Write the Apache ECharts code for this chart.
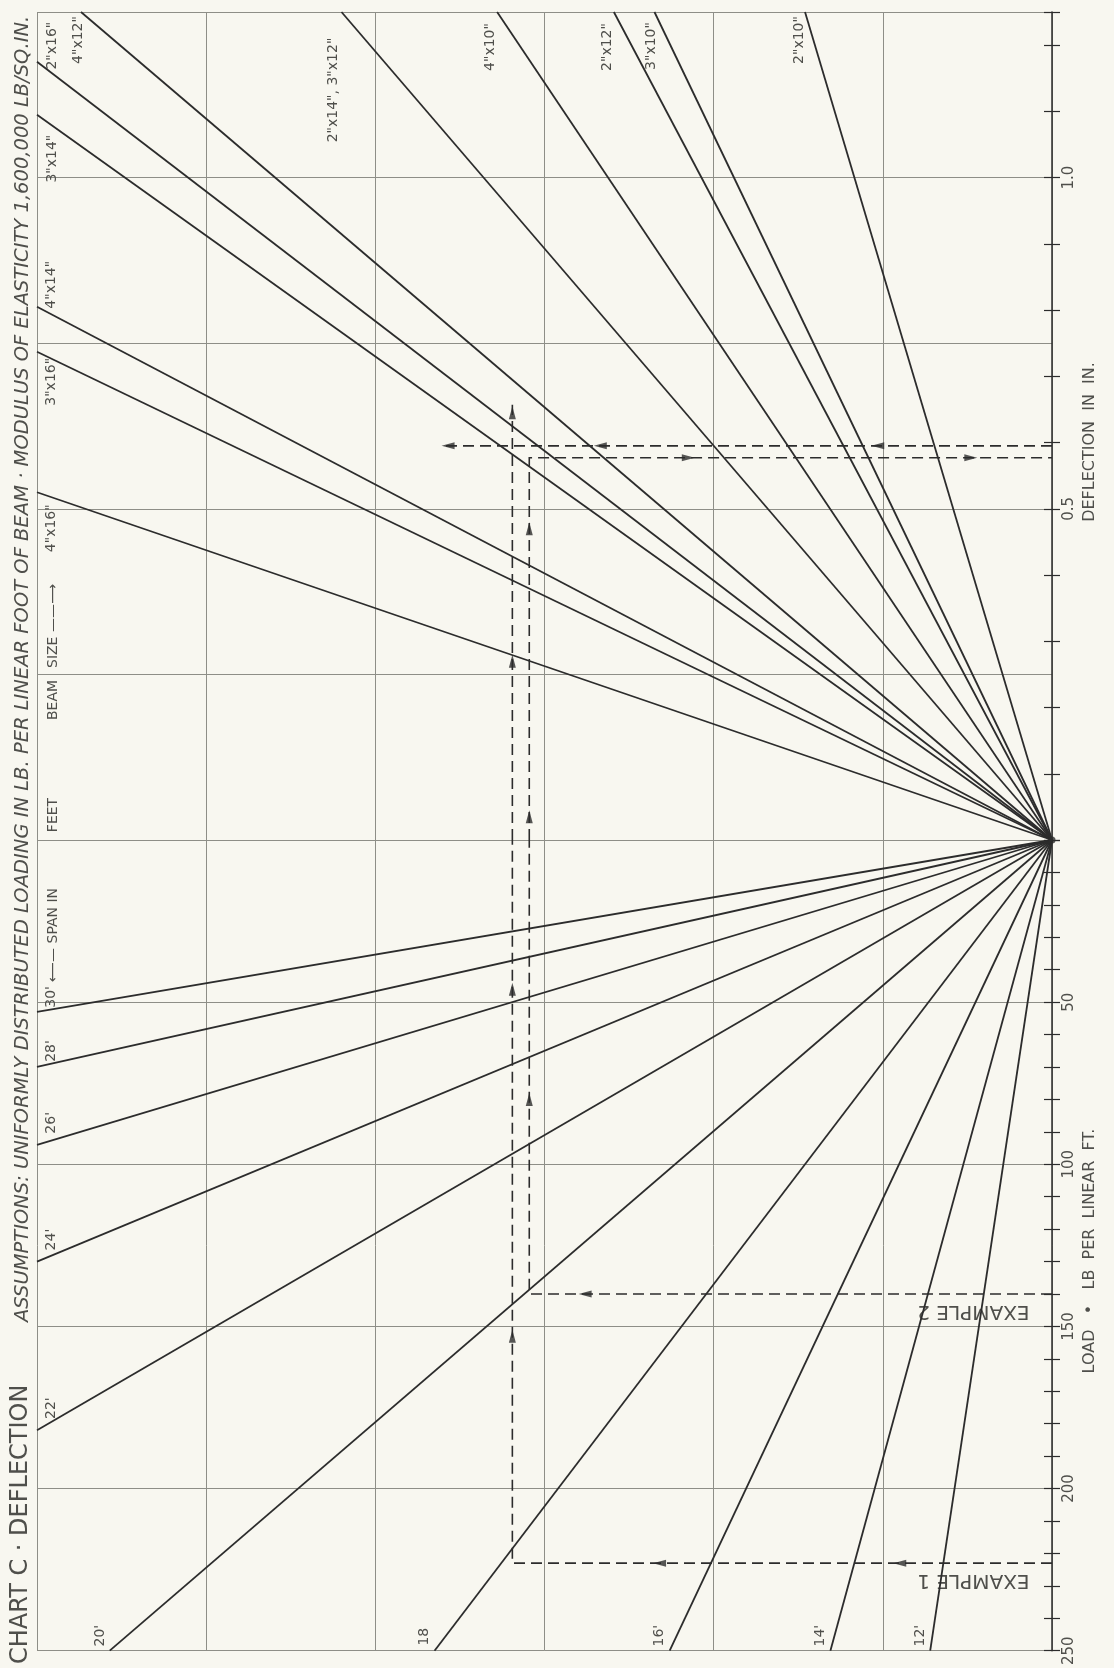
<!DOCTYPE html>
<html>
<head>
<meta charset="utf-8">
<title>Chart C - Deflection</title>
<script src="https://cdn.jsdelivr.net/npm/echarts@6/dist/echarts.min.js"></script>
<style>
  html, body { margin: 0; padding: 0; background: #f8f7f0; }
  #chart { width: 1114px; height: 1668px; }
</style>
</head>
<body>
<div id="chart"></div>
<script>
// x runs 0..6 across the sheet (one unit per grid column); the load / deflection scale sits at x = 6
var PIVOT_X = 6;

// beam size lines (upper half): point where each line leaves the frame, x and deflection in in.
var beamSizes = ['2"x16"', '3"x14"', '4"x12"', '2"x14", 3"x12"', '4"x10"', '2"x12"', '3"x10"', '2"x10"', '4"x14"', '3"x16"', '4"x16"'];
var beamX = [0, 0, 0.26, 1.80, 2.72, 3.41, 3.65, 4.54, 0, 0, 0];
var beamDefl = [1.175, 1.095, 1.25, 1.25, 1.25, 1.25, 1.25, 1.25, 0.805, 0.737, 0.525];

// span lines (lower half): point where each line leaves the frame, x and load in lb per linear ft.
var spans = ["30'", "28'", "26'", "24'", "22'", "20'", "18", "16'", "14'", "12'"];
var spanX = [0, 0, 0, 0, 0, 0.43, 2.35, 3.74, 4.69, 5.28];
var spanLoad = [53, 70, 94, 130, 182, 250, 250, 250, 250, 250];

// worked examples (dashed construction lines)
var example1Load = [[6, 223], [2.81, 223], [2.81, 0]];
var example1Defl = [[2.81, 0], [2.81, 0.657]];
var example1Across = [[6, 0.595], [2.40, 0.595]];
var example2Load = [[6, 140], [2.91, 140], [2.91, 0]];
var example2Defl = [[2.91, 0], [2.91, 0.577], [6, 0.577]];

// arrow heads on the example lines: x, value, direction
var arrowsDefl = [[2.81, 0.645, 'up'], [2.81, 0.27, 'up'], [2.91, 0.47, 'up'], [2.91, 0.035, 'up'],
                  [2.43, 0.595, 'left'], [3.33, 0.595, 'left'], [4.97, 0.595, 'left'],
                  [3.85, 0.577, 'right'], [5.52, 0.577, 'right']];
var arrowsLoad = [[2.81, 46, 'up'], [2.81, 153, 'up'], [2.91, 80, 'up'],
                  [3.68, 223, 'left'], [5.10, 223, 'left'], [3.24, 140, 'left']];

// scale labels
var deflTickLabels = ['0.5', '1.0'];
var loadTickLabels = ['50', '100', '150', '200', '250'];

var GRID = '#8e8e87';
var INK = '#2c2c2c';
var TEXT = '#4f4f4b';
var FONT = '"DejaVu Sans", sans-serif';

var chart = echarts.init(document.getElementById('chart'));

function plainAxis(extra) {
  var a = {
    type: 'value',
    axisLine: { show: false },
    axisTick: { show: false },
    axisLabel: { show: false },
    splitLine: { show: false }
  };
  return Object.assign(a, extra);
}

function tickLabel(list) {
  return function (v) {
    for (var i = 0; i < list.length; i++) {
      if (Math.abs(parseFloat(list[i]) - v) < 1e-6) return list[i];
    }
    return '';
  };
}

var rot = { up: 0, left: 90, right: -90 };

var option = {
  animation: false,
  backgroundColor: '#f8f7f0',
  grid: [
    { left: 37, right: 62, top: 12, height: 828 },
    { left: 37, right: 62, top: 840, height: 820 }
  ],
  xAxis: [0, 1].map(function (g) {
    return plainAxis({
      gridIndex: g, min: 0, max: 6, interval: 1,
      splitLine: { show: true, lineStyle: { color: GRID, width: 1 } }
    });
  }),
  yAxis: [
    // deflection half: grid lines, outer ticks + labels, inner ticks
    plainAxis({ gridIndex: 0, position: 'right', min: 0, max: 1.25, interval: 0.25,
      splitLine: { show: true, lineStyle: { color: GRID, width: 1 } } }),
    plainAxis({ gridIndex: 0, position: 'right', min: 0, max: 1.25, interval: 0.1,
      axisLine: { show: true, onZero: false, lineStyle: { color: INK, width: 1.5 } },
      axisTick: { show: true, length: 8, lineStyle: { color: INK, width: 1.2 } },
      axisLabel: { show: true, rotate: 90, margin: 10, fontSize: 15, color: TEXT,
        fontFamily: FONT, formatter: tickLabel(deflTickLabels) } }),
    plainAxis({ gridIndex: 0, position: 'right', min: 0, max: 1.25, interval: 0.1,
      axisTick: { show: true, inside: true, length: 8, lineStyle: { color: INK, width: 1.2 } } }),
    // load half (downward)
    plainAxis({ gridIndex: 1, position: 'right', inverse: true, min: 0, max: 250, interval: 50,
      splitLine: { show: true, lineStyle: { color: GRID, width: 1 } } }),
    plainAxis({ gridIndex: 1, position: 'right', inverse: true, min: 0, max: 250, interval: 10,
      axisLine: { show: true, onZero: false, lineStyle: { color: INK, width: 1.5 } },
      axisTick: { show: true, length: 8, lineStyle: { color: INK, width: 1.2 } },
      axisLabel: { show: true, rotate: 90, margin: 10, fontSize: 15, color: TEXT,
        fontFamily: FONT, formatter: tickLabel(loadTickLabels) } }),
    plainAxis({ gridIndex: 1, position: 'right', inverse: true, min: 0, max: 250, interval: 10,
      axisTick: { show: true, inside: true, length: 8, lineStyle: { color: INK, width: 1.2 } } })
  ],
  series: [
    {
      name: 'beam size', type: 'lines', coordinateSystem: 'cartesian2d',
      xAxisIndex: 0, yAxisIndex: 0, silent: true,
      lineStyle: { color: INK, width: 1.8, opacity: 1 },
      data: beamSizes.map(function (n, i) {
        return { name: n, coords: [[beamX[i], beamDefl[i]], [PIVOT_X, 0]] };
      })
    },
    {
      name: 'span', type: 'lines', coordinateSystem: 'cartesian2d',
      xAxisIndex: 1, yAxisIndex: 3, silent: true,
      lineStyle: { color: INK, width: 1.8, opacity: 1 },
      data: spans.map(function (n, i) {
        return { name: n, coords: [[spanX[i], spanLoad[i]], [PIVOT_X, 0]] };
      })
    },
    {
      name: 'examples (deflection)', type: 'lines', coordinateSystem: 'cartesian2d', polyline: true,
      xAxisIndex: 0, yAxisIndex: 0, silent: true,
      lineStyle: { color: INK, width: 1.6, opacity: 1, type: [11, 6] },
      data: [{ coords: example1Defl }, { coords: example1Across }, { coords: example2Defl }]
    },
    {
      name: 'examples (load)', type: 'lines', coordinateSystem: 'cartesian2d', polyline: true,
      xAxisIndex: 1, yAxisIndex: 3, silent: true,
      lineStyle: { color: INK, width: 1.6, opacity: 1, type: [11, 6] },
      data: [{ coords: example1Load }, { coords: example2Load }]
    },
    {
      name: 'arrows (deflection)', type: 'scatter', xAxisIndex: 0, yAxisIndex: 0, silent: true,
      symbol: 'triangle', symbolSize: [7, 13], itemStyle: { color: INK },
      data: arrowsDefl.map(function (a) { return { value: [a[0], a[1]], symbolRotate: rot[a[2]] }; })
    },
    {
      name: 'arrows (load)', type: 'scatter', xAxisIndex: 1, yAxisIndex: 3, silent: true,
      symbol: 'triangle', symbolSize: [7, 13], itemStyle: { color: INK },
      data: arrowsLoad.map(function (a) { return { value: [a[0], a[1]], symbolRotate: rot[a[2]] }; })
    },
    {
      name: 'pivot', type: 'scatter', xAxisIndex: 0, yAxisIndex: 0, silent: true,
      symbolSize: 7, itemStyle: { color: INK }, data: [[PIVOT_X, 0]]
    }
  ]
};

chart.setOption(option);

// ---- text: line labels sit next to where each line meets the frame ----
var beamLabelOffset = [[15, -16], [15, 44], [-3, 28], [-8, 78], [-7, 35], [-6, 35], [-3, 34], [-6, 28], [14, -22], [14, 30], [14, 36]];
var spanLabelOffset = [[14, -15], [14, -16], [14, -22], [14, -22], [14, -22], [-9, -15], [-10, -14], [-10, -15], [-10, -15], [-10, -15]];

function vtext(x, y, text, size, extra) {
  var style = {
    text: text, fontSize: size, fontFamily: FONT, fill: TEXT,
    align: 'center', verticalAlign: 'middle', textAlign: 'center', textVerticalAlign: 'middle'
  };
  Object.assign(style, extra || {});
  return { type: 'text', x: x, y: y, rotation: Math.PI / 2, silent: true, style: style };
}

var graphics = [];
beamSizes.forEach(function (n, i) {
  var p = chart.convertToPixel({ xAxisIndex: 0, yAxisIndex: 0 }, [beamX[i], beamDefl[i]]);
  graphics.push(vtext(p[0] + beamLabelOffset[i][0], p[1] + beamLabelOffset[i][1], n, 14));
});
spans.forEach(function (n, i) {
  var p = chart.convertToPixel({ xAxisIndex: 1, yAxisIndex: 3 }, [spanX[i], spanLoad[i]]);
  graphics.push(vtext(p[0] + spanLabelOffset[i][0], p[1] + spanLabelOffset[i][1], n, 14));
});

// example captions, upside down just under their load lines
var e1 = chart.convertToPixel({ xAxisIndex: 1, yAxisIndex: 3 }, [5.5, example1Load[0][1]]);
var e2 = chart.convertToPixel({ xAxisIndex: 1, yAxisIndex: 3 }, [5.5, example2Load[0][1]]);
[['EXAMPLE 1', e1], ['EXAMPLE 2', e2]].forEach(function (e) {
  graphics.push({ type: 'text', x: e[1][0] + 6, y: e[1][1] + 17, rotation: Math.PI, silent: true,
    style: { text: e[0], fontSize: 20, fontFamily: FONT, fill: TEXT,
      align: 'center', verticalAlign: 'middle', textAlign: 'center', textVerticalAlign: 'middle' } });
});

var left = { align: 'left', textAlign: 'left' };
graphics.push(
  vtext(21, 1664, 'CHART C · DEFLECTION', 24, left),
  vtext(23, 1322, 'ASSUMPTIONS: UNIFORMLY DISTRIBUTED LOADING IN LB. PER LINEAR FOOT OF BEAM · MODULUS OF ELASTICITY 1,600,000 LB/SQ.IN.', 19.5,
    { align: 'left', textAlign: 'left', fontStyle: 'italic' }),
  vtext(53, 982, '\u27F5\u2014 SPAN IN', 14, left),
  vtext(53, 815, 'FEET', 14),
  vtext(53, 700, 'BEAM', 14),
  vtext(53, 668, 'SIZE \u2014\u2014\u27F6', 14, left),
  vtext(1090, 442, 'DEFLECTION  IN  IN.', 16),
  vtext(1090, 1251, 'LOAD   \u2022   LB  PER  LINEAR  FT.', 16)
);

chart.setOption({ graphic: { elements: graphics } });
</script>
</body>
</html>
